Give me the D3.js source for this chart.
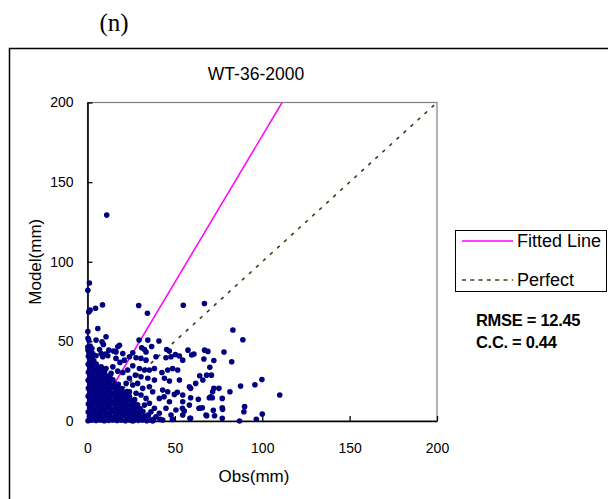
<!DOCTYPE html>
<html>
<head>
<meta charset="utf-8">
<script src="https://cdn.jsdelivr.net/npm/d3@7"></script>
<style>
  html, body { margin: 0; padding: 0; background: #fff; }
  svg { display: block; }
  text { font-family: "Liberation Sans", Arial, sans-serif; fill: #000; }
</style>
</head>
<body>
<svg id="chart" width="608" height="499"></svg>
<script>
// ---- data ----
const panelLabel = "(n)";
const chartTitle = "WT-36-2000";
const xTicks = [0, 50, 100, 150, 200];
const yTicks = [0, 50, 100, 150, 200];
const xTitle = "Obs(mm)";
const yTitle = "Model(mm)";
const legendLabels = ["Fitted Line", "Perfect"];
const statLabels = ["RMSE = 12.45", "C.C. = 0.44"];

// fitted regression: model = slope * obs + intercept
const fitSlope = 1.84;
const fitIntercept = -4.9;

// daily rainfall pairs [observed, modelled] in mm
const rainPairs = [
  // dense low-rainfall cluster
  [0.3,0.2],[2.4,0.5],[4.9,0.3],[7.3,0.6],[9.6,0.2],[12.1,0.4],[14.4,0.7],[16.9,0.3],[19.3,0.5],[21.7,0.2],[24.1,0.6],[26.5,0.3],[29.1,0.4],[31.4,0.7],[33.9,0.2],[36.3,0.5],
  [1.1,2.9],[3.5,2.6],[6.1,3.1],[8.3,2.7],[10.9,3.2],[13.1,2.8],[15.7,3.0],[17.9,2.6],[20.5,3.3],[22.7,2.9],[25.3,3.1],[27.5,2.7],[30.1,3.0],[32.3,2.8],[34.8,3.4],
  [0.4,5.6],[2.9,5.3],[5.1,5.8],[7.7,5.4],[9.9,5.7],[12.5,5.2],[14.7,5.9],[17.3,5.5],[19.5,5.3],[22.1,5.8],[24.3,5.4],[26.9,5.6],[29.1,5.2],[31.7,5.9],
  [1.4,8.1],[3.8,7.8],[6.4,8.3],[8.6,7.9],[11.2,8.2],[13.4,7.7],[16.0,8.4],[18.2,8.0],[20.8,7.8],[23.0,8.3],[25.6,7.9],[27.8,8.2],[30.2,7.7],
  [0.5,10.6],[2.8,10.3],[5.4,10.8],[7.6,10.4],[10.2,10.7],[12.4,10.2],[15.0,10.9],[17.2,10.5],[19.8,10.3],[22.0,10.8],[24.6,10.4],[26.8,10.6],[28.7,10.2],
  [1.3,13.1],[3.7,12.8],[6.2,13.3],[8.4,12.9],[11.0,13.2],[13.2,12.7],[15.8,13.4],[18.0,13.0],[20.6,12.8],[22.8,13.3],[25.1,12.9],[27.0,13.4],
  [0.4,15.6],[2.9,15.3],[5.1,15.8],[7.7,15.4],[9.9,15.7],[12.5,15.2],[14.7,15.9],[17.3,15.5],[19.5,15.3],[22.1,15.8],[24.0,15.4],
  [1.6,18.1],[3.9,17.8],[6.5,18.3],[8.7,17.9],[11.3,18.2],[13.5,17.7],[16.1,18.4],[18.3,18.0],[20.9,17.8],[22.6,18.5],
  [0.5,20.6],[2.8,20.3],[5.4,20.8],[7.6,20.4],[10.2,20.7],[12.4,20.2],[15.0,20.9],[17.2,20.5],[19.6,20.3],
  [1.4,23.1],[3.8,22.8],[6.3,23.3],[8.5,22.9],[11.1,23.2],[13.3,22.7],[15.9,23.4],[17.6,23.0],
  [0.4,25.6],[2.9,25.3],[5.1,25.8],[7.7,25.4],[9.9,25.7],[12.5,25.2],[14.5,25.9],
  [1.5,28.1],[3.9,27.8],[6.4,28.3],[8.6,27.9],[11.1,28.2],[12.8,27.7],
  [0.5,30.6],[2.8,30.3],[5.4,30.8],[7.6,30.4],[9.7,30.7],
  [1.3,33.1],[3.7,32.8],[6.2,33.3],[8.1,32.9],
  [0.4,35.6],[2.9,35.3],[5.0,35.8],
  [1.4,38.1],[3.6,37.8],
  [0.5,40.6],[2.4,40.3],
  [1.2,43.1],[0.3,44.5],[1.0,42.5],[2.5,45.5],[0.3,52.0],[0.2,46.5],
  // scattered events
  [0.2,82.1],[1.1,86.7],[0.7,68.5],[1.5,69.6],[4.6,70.8],[8.6,72.9],[29.3,72.5],[34.3,67.7],[54.8,72.7],[11.0,129.3],
  [0.2,56.2],[5.9,58.1],[10.6,52.9],[0.7,50.8],[4.9,50.8],[8.3,49.7],[9.1,48.1],[29.5,50.8],[34.5,50.8],[40.9,50.2],
  [18.3,47.6],[17.3,46.6],[36.7,46.8],[31.0,46.0],[32.6,44.9],[45.3,44.9],[46.8,43.9],[57.5,44.5],[1.5,47.0],[6.9,44.9],
  [12.2,44.5],[14.9,43.9],[16.3,43.4],[20.2,42.4],[25.9,42.8],[7.8,42.4],[10.3,42.0],[3.0,42.4],[33.5,43.3],[50.3,41.8],
  [27.8,39.7],[30.6,39.3],[33.5,38.2],[39.2,40.3],[44.9,39.7],[47.8,40.3],[52.6,40.8],[54.5,38.2],[29.7,33.0],[32.6,32.0],
  [35.4,32.0],[38.3,33.0],[42.6,30.5],[45.9,32.0],[48.7,33.0],[51.6,32.0],[27.4,28.8],[30.6,27.8],[34.5,26.8],[38.3,25.7],
  [44.0,26.8],[46.9,25.1],[52.6,25.7],[58.3,21.5],[31.6,20.5],[35.4,21.5],[37.3,18.4],[43.0,19.4],[45.9,18.4],[49.7,16.7],
  [54.5,16.3],[41.1,14.2],[46.9,12.1],[54.5,12.1],[58.3,10.0],[44.9,8.0],[50.6,6.9],[55.4,6.3],[38.3,8.0],[41.1,4.8],
  [47.8,3.8],[54.5,3.8],[34.5,3.8],[43.0,0.6],
  [66.6,38.9],[72.3,38.0],[82.5,37.2],[70.0,33.7],[68.2,28.8],[70.9,28.8],[64.2,28.4],[66.0,25.7],[61.9,23.6],[59.0,20.5],
  [72.3,20.5],[75.2,20.5],[71.6,18.4],[87.6,21.9],[95.8,22.8],[99.8,26.1],[81.5,18.4],[110.0,16.3],[69.7,14.6],[71.4,14.6],
  [63.4,13.6],[77.1,14.2],[63.8,8.0],[65.7,8.3],[77.1,8.3],[77.3,7.3],[72.0,6.7],[89.9,9.0],[89.5,5.8],[68.2,3.3],
  [72.7,3.3],[77.1,1.7],[100.0,4.4],[96.6,1.1],[87.0,0.0],[59.0,1.7],[59.0,14.6],[59.6,41.4],
  [66.9,73.8],[83.2,57.1],[88.9,51.0],[67.0,44.5],[68.9,43.7],[78.1,43.3],[60.9,42.0],
  [4.9,41.0],[8.7,40.3],[11.6,41.0],[16.3,39.3],[18.6,36.8],[21.1,38.2],[24.0,40.3],[7.8,34.0],[10.6,33.0],[14.5,34.0],
  [17.3,31.3],[20.2,30.5],[23.0,32.0],[25.9,34.7],[13.5,29.9],[24.0,26.8],[22.1,23.6],[25.9,22.6],[28.7,23.6],[24.0,18.4],
  [27.8,17.4],[30.6,16.3],[33.5,14.2],[32.6,10.0],[35.4,11.1],[36.3,5.8],[31.6,1.7],[39.2,2.7],[37.3,0.0],
  [25.7,0.0],[41.5,1.0],[37.7,1.0],[48.6,1.0],[54.3,8.0],[43.8,15.2],[51.4,18.0],[64.3,8.0],[70.5,15.2],[58.6,1.7],[67.8,3.8]
];

// ---- drawing ----
const svg = d3.select("#chart");
const x = d3.scaleLinear().domain([0, 200]).range([87.5, 437]);
const y = d3.scaleLinear().domain([0, 200]).range([421, 102.5]);

// outer chart frame
svg.append("rect")
  .attr("x", 9.5).attr("y", 48.5)
  .attr("width", 700).attr("height", 500)
  .attr("fill", "none").attr("stroke", "#000").attr("stroke-width", 1.5);

// panel label
svg.append("text")
  .attr("x", 114).attr("y", 31)
  .attr("text-anchor", "middle")
  .style("font-family", "'Liberation Serif', 'Times New Roman', serif")
  .style("font-size", "25px")
  .text(panelLabel);

// title
svg.append("text")
  .attr("x", 256).attr("y", 80)
  .attr("text-anchor", "middle")
  .style("font-size", "17.5px")
  .text(chartTitle);

// plot area frame
svg.append("rect")
  .attr("x", x(0)).attr("y", y(200))
  .attr("width", x(200) - x(0)).attr("height", y(0) - y(200))
  .attr("fill", "#fff").attr("stroke", "#808080").attr("stroke-width", 1.2);

// axes
const xAxis = svg.append("g")
  .attr("transform", `translate(0,${y(0)})`)
  .call(d3.axisBottom(x).tickValues(xTicks).tickSizeInner(-5).tickSizeOuter(0).tickPadding(22));
const yAxis = svg.append("g")
  .attr("transform", `translate(${x(0)},0)`)
  .call(d3.axisLeft(y).tickValues(yTicks).tickSizeInner(-5).tickSizeOuter(0).tickPadding(14));
[xAxis, yAxis].forEach(g => {
  g.select(".domain").attr("stroke", "#000").attr("stroke-width", 1.6);
  g.selectAll(".tick line").attr("stroke", "#000").attr("stroke-width", 1.3);
  g.selectAll(".tick text")
    .style("font-family", "'Liberation Sans', Arial, sans-serif")
    .style("font-size", "14px").attr("fill", "#000");
});

// axis titles
svg.append("text")
  .attr("x", 254).attr("y", 482)
  .attr("text-anchor", "middle")
  .style("font-size", "17px")
  .text(xTitle);
svg.append("text")
  .attr("transform", `translate(41,${(y(0) + y(200)) / 2}) rotate(-90)`)
  .attr("text-anchor", "middle")
  .style("font-size", "17px")
  .text(yTitle);

// reference 1:1 line
const line = d3.line().x(d => x(d[0])).y(d => y(d[1]));
svg.append("path")
  .datum([[0, 0], [200, 200]])
  .attr("d", line)
  .attr("fill", "none")
  .attr("stroke", "#3d3d14").attr("stroke-width", 1.6)
  .attr("stroke-dasharray", "3.5,6");

// fitted regression line, limited to the plotted range
const fitX0 = -fitIntercept / fitSlope;
const fitX1 = (200 - fitIntercept) / fitSlope;
svg.append("path")
  .datum([[fitX0, fitSlope * fitX0 + fitIntercept], [fitX1, fitSlope * fitX1 + fitIntercept]])
  .attr("d", line)
  .attr("fill", "none")
  .attr("stroke", "#ff00ff").attr("stroke-width", 1.5);

// scatter markers
svg.append("g")
  .selectAll("circle")
  .data(rainPairs)
  .join("circle")
  .attr("cx", d => x(d[0]))
  .attr("cy", d => y(d[1]))
  .attr("r", 2.8)
  .attr("fill", "#000080");

// legend
const legend = svg.append("g");
legend.append("rect")
  .attr("x", 455.5).attr("y", 230.5)
  .attr("width", 151).attr("height", 61)
  .attr("fill", "#fff").attr("stroke", "#000").attr("stroke-width", 1);
const legendStyles = [
  { stroke: "#ff00ff", dash: null, width: 1.5 },
  { stroke: "#3d3d14", dash: "4,4.3", width: 1.5 }
];
legendLabels.forEach((label, i) => {
  const cy = 241 + i * 39;
  legend.append("line")
    .attr("x1", 462).attr("x2", 513)
    .attr("y1", cy).attr("y2", cy)
    .attr("stroke", legendStyles[i].stroke)
    .attr("stroke-width", legendStyles[i].width)
    .attr("stroke-dasharray", legendStyles[i].dash);
  legend.append("text")
    .attr("x", 517).attr("y", cy)
    .attr("dy", "0.35em")
    .style("font-size", "18px")
    .text(label);
});

// statistics
statLabels.forEach((label, i) => {
  svg.append("text")
    .attr("x", 476).attr("y", 320 + i * 22)
    .attr("dy", "0.35em")
    .style("font-size", "16.5px")
    .style("font-weight", "bold")
    .style("letter-spacing", "-0.3px")
    .text(label);
});
</script>
</body>
</html>
